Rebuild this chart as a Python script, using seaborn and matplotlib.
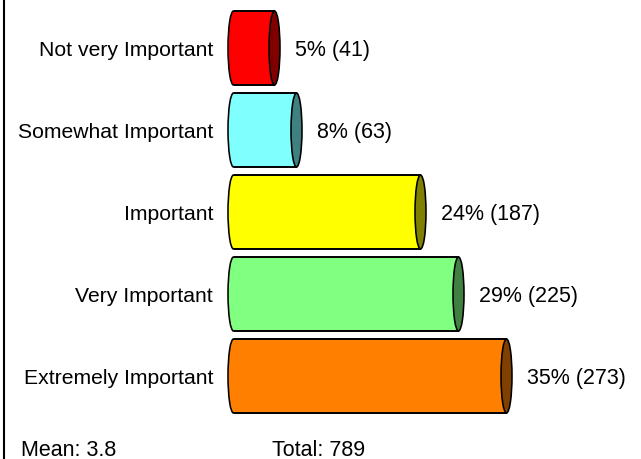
import matplotlib
matplotlib.use('Agg')
import matplotlib.pyplot as plt
import seaborn as sns
import pandas as pd
from matplotlib.lines import Line2D
from matplotlib.patches import Ellipse
from matplotlib.transforms import ScaledTranslation

categories = ['Not very Important', 'Somewhat Important', 'Important', 'Very Important', 'Extremely Important']
counts = [41, 63, 187, 225, 273]
percents = [5, 8, 24, 29, 35]
colors = ['#FF0000', '#80FFFF', '#FFFF00', '#80FF80', '#FF8000']
dark_colors = ['#800000', '#408080', '#808000', '#408040', '#804000']
mean_label = 'Mean: 3.8'
total_label = 'Total: 789'

W, H = 641, 459
FS = 15.2
FS_VALUES = 15.5

sns.set_theme(style='white')
plt.rcParams['font.family'] = ['Liberation Sans', 'DejaVu Sans']

df = pd.DataFrame({'category': categories, 'count': counts})

fig = plt.figure(figsize=(W / 100, H / 100), dpi=100)
ax = fig.add_axes([228 / W, 0, (W - 228) / W, 1])
sns.barplot(data=df, x='count', y='category', hue='category', palette=colors, saturation=1,
            width=74 / 82, linewidth=0, legend=False, zorder=2, ax=ax)

ax.set_xlim(-5.5, (W - 228) - 5.5)
ax.set_ylim((H - 48) / 82, -48 / 82)
ax.set_xlabel('')
ax.set_ylabel('')
ax.set_xticks([])
sns.despine(ax=ax, left=True, bottom=True)
ax.tick_params(axis='y', length=0, pad=10.8, labelsize=FS, labelcolor='black')
for tick_label in ax.get_yticklabels():
    tick_label.set_transform(tick_label.get_transform() + ScaledTranslation(0, -1 / 100, fig.dpi_scale_trans))

# cylinder caps and outline
cap = 11
for bar, col, dark in zip(ax.patches, colors, dark_colors):
    y0, h, val = bar.get_y(), bar.get_height(), bar.get_width()
    yc = y0 + h / 2
    ax.add_patch(Ellipse((0, yc), cap, h, fc=col, ec='black', lw=1.15, zorder=1, clip_on=False))
    ax.hlines([y0, y0 + h], 0, val, color='black', lw=1.4, zorder=3)
    ax.add_patch(Ellipse((val, yc), cap, h, fc=dark, ec='black', lw=1.15, zorder=4))

labels = ['%d%% (%d)' % (p, c) for p, c in zip(percents, counts)]
for container, label in zip(ax.containers, labels):
    for text in ax.bar_label(container, labels=[label], padding=15, fontsize=FS_VALUES, color='black'):
        text.xyann = (15, -2)

fig.add_artist(Line2D([3.5 / W, 3.5 / W], [0, 1], color='black', lw=1.5))
fig.text(21 / W, 1 - 456 / H, mean_label, fontsize=FS_VALUES, ha='left', va='baseline', color='black')
fig.text(272 / W, 1 - 456 / H, total_label, fontsize=FS_VALUES, ha='left', va='baseline', color='black')

fig.savefig('out.png', dpi=100, facecolor='white')
